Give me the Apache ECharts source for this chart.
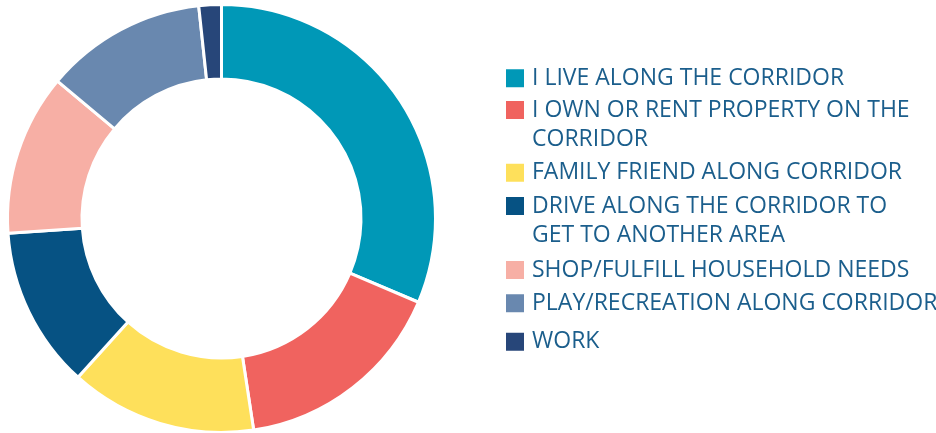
<!DOCTYPE html>
<html>
<head>
<meta charset="utf-8">
<script src="https://cdn.jsdelivr.net/npm/echarts@6/dist/echarts.min.js"></script>
<style>
  html, body { margin: 0; padding: 0; background: #ffffff; }
  #chart { width: 936px; height: 433px; }
</style>
</head>
<body>
<div id="chart"></div>
<script>
// Reasons for using the corridor (share of responses, %)
const categories = [
  'I LIVE ALONG THE CORRIDOR',
  'I OWN OR RENT PROPERTY ON THE\nCORRIDOR',
  'FAMILY FRIEND ALONG CORRIDOR',
  'DRIVE ALONG THE CORRIDOR TO\nGET TO ANOTHER AREA',
  'SHOP/FULFILL HOUSEHOLD NEEDS',
  'PLAY/RECREATION ALONG CORRIDOR',
  'WORK'
];
const shares = [31.4, 16.2, 14.1, 12.2, 12.2, 12.2, 1.7];
const sliceColors = ['#0098B7', '#F0635F', '#FEE05B', '#065283', '#F7AFA5', '#6988AF', '#274679'];

// Legend row placement (one legend block per entry so each icon sits on the first text line)
const legendTops = [63.8, 66.5, 158.2, 162.5, 255.5, 288.8, 327.2];
const LINE_H = 29;

const chart = echarts.init(document.getElementById('chart'), null, { renderer: 'canvas' });

const legends = categories.map((name, i) => {
  const twoLines = name.indexOf('\n') >= 0;
  return {
    show: true,
    orient: 'vertical',
    left: 504,
    top: legendTops[i],
    padding: 0,
    itemWidth: 20,
    itemHeight: 20,
    icon: 'rect',
    selectedMode: false,
    data: [name],
    // a leading blank line keeps the first text line level with the icon
    formatter: (n) => (twoLines ? '\n' + n : n),
    textStyle: {
      fontFamily: 'Open Sans',
      fontSize: 23,
      color: '#1B5E8C',
      lineHeight: LINE_H,
      padding: [0, 0, 0, 2]
    }
  };
});

chart.setOption({
  animation: false,
  backgroundColor: '#ffffff',
  legend: legends,
  series: [{
    type: 'pie',
    center: [221.5, 218.5],
    radius: [139.5, 214],
    startAngle: 90,
    clockwise: true,
    avoidLabelOverlap: false,
    label: { show: false },
    labelLine: { show: false },
    emphasis: { disabled: true },
    itemStyle: { borderColor: '#ffffff', borderWidth: 3 },
    data: categories.map((name, i) => ({
      name: name,
      value: shares[i],
      itemStyle: { color: sliceColors[i] }
    }))
  }]
});
</script>
</body>
</html>
